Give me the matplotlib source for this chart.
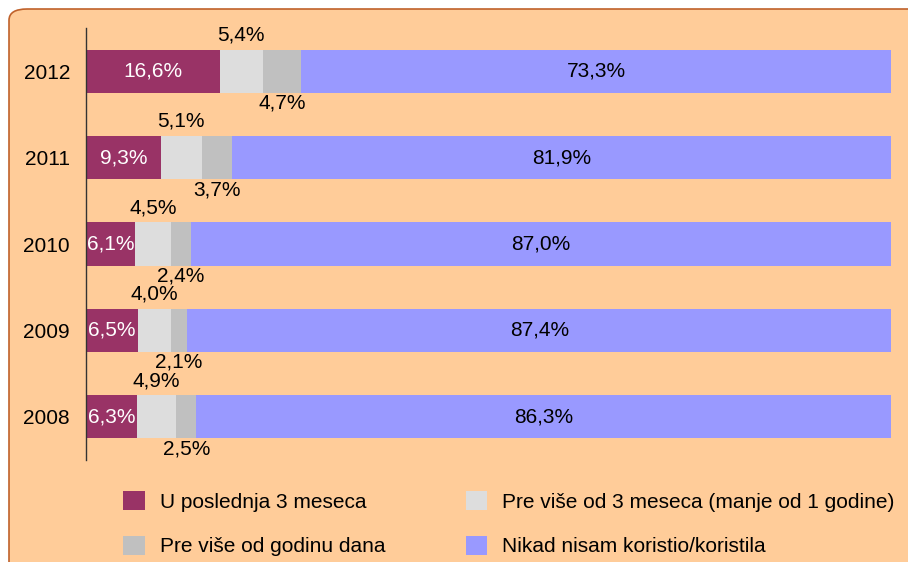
import matplotlib
matplotlib.use("Agg")
import matplotlib.pyplot as plt
from matplotlib.patches import FancyBboxPatch, Patch

years = ["2012", "2011", "2010", "2009", "2008"]
last3 = [16.6, 9.3, 6.1, 6.5, 6.3]
over3 = [5.4, 5.1, 4.5, 4.0, 4.9]
over1y = [4.7, 3.7, 2.4, 2.1, 2.5]
never = [73.3, 81.9, 87.0, 87.4, 86.3]
series_names = ["U poslednja 3 meseca", "Pre više od 3 meseca (manje od 1 godine)",
                "Pre više od godinu dana", "Nikad nisam koristio/koristila"]
colors = ["#993366", "#DDDDDD", "#C0C0C0", "#9999FF"]

plt.rcParams['font.family'] = ['Liberation Sans', 'DejaVu Sans']
FS = 15
W, H = 908, 562
fig = plt.figure(figsize=(W/100, H/100), dpi=100)
fig.patch.set_facecolor("white")

bg = FancyBboxPatch((9/W, -0.2), 1.2, 1.2 - 9/H, transform=fig.transFigure,
                    boxstyle="round,pad=0,rounding_size=0.02", facecolor="#FFCC99",
                    edgecolor="#C0622B", linewidth=1.2, zorder=-5)
fig.patches.append(bg)

ax = fig.add_axes([86/W, 1-460/H, (891-86)/W, (460-28)/H])
ax.set_zorder(2)
ax.set_facecolor("none")
ypos = list(range(len(years)))
data = [last3, over3, over1y, never]
left = [0.0]*len(years)
for k, vals in enumerate(data):
    ax.barh(ypos, vals, left=left, height=0.5, color=colors[k], label=series_names[k], zorder=2)
    for i, v in enumerate(vals):
        cx = left[i] + v/2
        txt = f"{v:.1f}%".replace(".", ",")
        if k == 0:
            ax.text(cx, i, txt, ha="center", va="center", color="white", fontsize=FS, zorder=3)
        elif k == 1:
            ax.text(cx, i - 0.42, txt, ha="center", va="center", color="black", fontsize=FS, zorder=3)
        elif k == 2:
            ax.text(cx, i + 0.37, txt, ha="center", va="center", color="black", fontsize=FS, zorder=3)
        else:
            ax.text(cx, i, txt, ha="center", va="center", color="black", fontsize=FS, zorder=3)
    left = [l + v for l, v in zip(left, vals)]

ax.set_xlim(0, 100)
ax.set_ylim(len(years) - 0.5, -0.5)
ax.set_yticks(ypos)
ax.set_yticklabels(years, fontsize=FS)
ax.tick_params(axis="y", length=0, pad=11.5)
ax.set_xticks([])
for s in ["top", "right", "bottom"]:
    ax.spines[s].set_visible(False)
ax.spines["left"].set_color("#333333")
ax.spines["left"].set_linewidth(1)

handles = [Patch(facecolor=colors[i], edgecolor="none") for i in [0, 2, 1, 3]]
labels = [series_names[i] for i in [0, 2, 1, 3]]
fig.legend(handles, labels, ncol=2, loc="upper left", bbox_to_anchor=(123/W, 1-491/H),
           frameon=False, fontsize=FS, handlelength=1.05, handleheight=1.05,
           handletextpad=0.72, columnspacing=3.85, labelspacing=1.15, borderpad=0,
           borderaxespad=0)

fig.savefig("out.png", dpi=100, facecolor=fig.get_facecolor())
